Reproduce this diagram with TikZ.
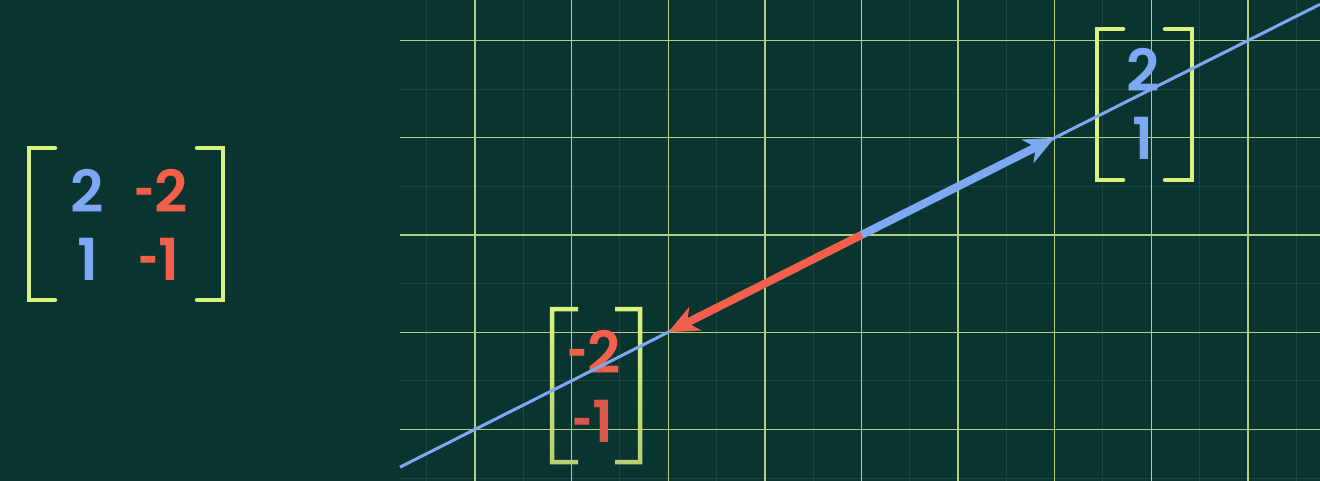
\documentclass[tikz,border=0pt]{standalone}
\usepackage{fontspec}
\IfFontExistsTF{Poppins SemiBold}{\setmainfont{Poppins SemiBold}}{\IfFontExistsTF{Poppins Medium}{\setmainfont{Poppins Medium}}{\setmainfont{Poppins}[UprightFont=*-Bold]}}
\usepackage{graphicx}
\usetikzlibrary{arrows.meta}
\definecolor{bg}{HTML}{0A3430}
\definecolor{gridmaj}{HTML}{AFCF82}
\definecolor{gridmin}{HTML}{1A473C}
\definecolor{vblue}{HTML}{7DA9F2}
\definecolor{vred}{HTML}{F2604B}
\definecolor{vreddim}{HTML}{D9584A}
\definecolor{brk}{HTML}{D9F47C}
\definecolor{brkdim}{HTML}{B9CE72}
\newcommand{\mn}{\scalebox{0.6}[1]{-}}
\tikzset{
  majline/.style={gridmaj, line width=1.4pt},
  minline/.style={gridmin, line width=1pt},
  bracket/.style={brk, line width=4.5pt, line cap=round, line join=miter},
  spanline/.style={vblue, line width=3pt},
  vecblue/.style={vblue, line width=8pt, -{Stealth[length=30pt, width=26pt, inset=9pt]}},
  vecred/.style={vred, line width=8pt, -{Stealth[length=30pt, width=26pt, inset=9pt]}},
  digit/.style={font=\fontsize{58}{58}\selectfont, inner sep=0pt},
}
\begin{document}
\begin{tikzpicture}[x=1pt,y=-1pt]
\useasboundingbox (0,0) rectangle (1320,481);
\fill[bg] (0,0) rectangle (1320,481);
% minor grid
\foreach \k in {-4.5,-3.5,...,4.5} \draw[minline] ({861.4+\k*96.6},0) -- ({861.4+\k*96.6},481);
\foreach \j in {-1.5,-0.5,...,2.5} \draw[minline] (400,{235+\j*97.2}) -- (1320,{235+\j*97.2});
% major grid
\foreach \k in {-4,...,4} \draw[majline] ({861.4+\k*96.6},0) -- ({861.4+\k*96.6},481);
\foreach \j in {-2,...,2} \draw[majline] (400,{235+\j*97.2}) -- (1320,{235+\j*97.2});

% left matrix
\draw[bracket] (55,148) -- (29,148) -- (29,300) -- (55,300);
\draw[bracket] (197,148) -- (223,148) -- (223,300) -- (197,300);
\node[digit, text=vblue] (a11) at (87.5,190.5) {2};
\node[digit, text=vred] (a12) at (161,190.5) {\mn2};
\node[digit, text=vblue] (a21) at (88,259) {1};
\node[digit, text=vred] (a22) at (159,259) {\mn1};

% right vector [2;1]
\draw[bracket] (1123,29) -- (1097,29) -- (1097,180) -- (1123,180);
\draw[bracket] (1165,29) -- (1192,29) -- (1192,180) -- (1165,180);
\node[digit, text=vblue] (b1) at (1143,70) {2};
\node[digit, text=vblue] (b2) at (1143,138) {1};

% bottom vector [-2;-1] (fading toward the bottom)
\shade[top color=brk, bottom color=brkdim]
  (549.75,306.75) rectangle (554.25,464.25)
  (549.75,306.75) rectangle (578,311.25)
  (549.75,459.75) rectangle (578,464.25)
  (637.75,306.75) rectangle (642.25,464.25)
  (615,306.75) rectangle (642.25,311.25)
  (615,459.75) rectangle (642.25,464.25);
\node[digit, text=vred] (c1) at (594,352) {\mn2};
\node[digit, text=vreddim] (c2) at (593,421) {\mn1};

% span line
\coordinate (L0) at (400,467.1);
\coordinate (L1) at (1320,4.3);
\draw[spanline] (L0) -- (L1);

% vectors
\coordinate (O) at (861.4,235);
\coordinate (B) at (1054.6,137.8);
\coordinate (R) at (668.2,332.2);
\draw[vecblue] (O) -- (B);
\draw[vecred] (O) -- (R);
\end{tikzpicture}
\end{document}
